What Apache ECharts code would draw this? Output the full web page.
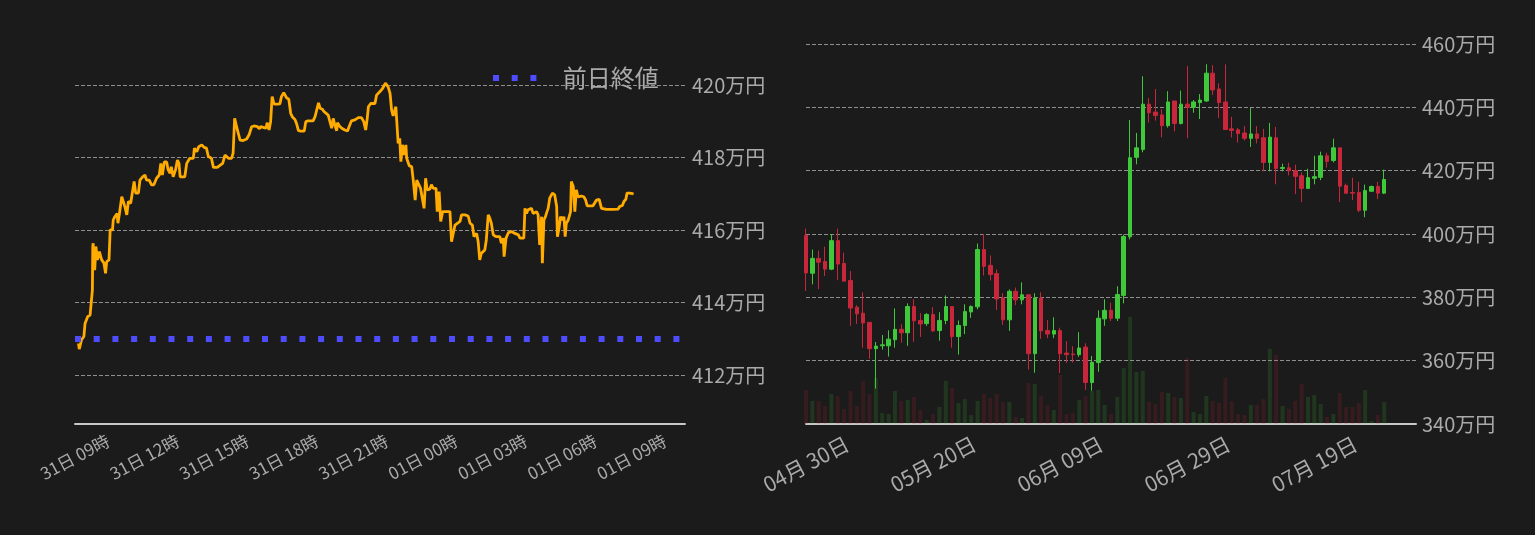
<!DOCTYPE html>
<html>
<head>
    <meta charset="UTF-8">
    <title>価格チャート</title>
    <style type="text/css">
        html, body { margin:0; padding:0; background:#1b1b1b; }
        #main { width:1535px; height:535px; }
    </style>
    <script type="text/javascript" src="https://cdn.jsdelivr.net/npm/echarts@6.0.0/dist/echarts.min.js"></script>
</head>
<body>
<div id="main"></div>
<script type="text/javascript">
    // 当日（31日 09時から）の分単位オフセットと価格（万円）
    var intradayMinutes = [9, 11, 17, 23, 26, 30, 33, 39, 43, 45, 46, 47, 51, 54, 58, 63, 69, 75, 79, 82,
        88, 91, 97, 99, 103, 109, 111, 115, 121, 125, 129, 134, 138, 144, 149, 153, 157, 164, 168, 175,
        181, 185, 192, 198, 204, 211, 218, 222, 226, 231, 237, 241, 246, 249, 254, 260, 265, 269, 272, 284,
        289, 297, 306, 309, 315, 320, 328, 334, 340, 345, 353, 358, 368, 373, 382, 388, 392, 397, 405, 409,
        413, 418, 422, 427, 435, 444, 450, 457, 463, 472, 477, 480, 485, 494, 497, 502, 506, 510, 515, 522,
        530, 534, 540, 547, 553, 558, 563, 569, 573, 578, 584, 593, 597, 603, 616, 621, 626, 630, 634, 640,
        644, 649, 655, 659, 664, 668, 672, 677, 679, 684, 690, 698, 705, 709, 715, 724, 733, 741, 747, 752,
        756, 759, 765, 770, 776, 780, 789, 796, 803, 806, 810, 815, 819, 823, 827, 830, 834, 836, 840, 843,
        847, 852, 856, 858, 862, 865, 871, 875, 880, 884, 894, 899, 903, 907, 911, 918, 922, 927, 934, 937,
        942, 946, 951, 961, 970, 974, 978, 983, 987, 996, 1000, 1009, 1017, 1022, 1028, 1032, 1039, 1043, 1047, 1051,
        1060, 1064, 1069, 1073, 1077, 1082, 1089, 1099, 1103, 1108, 1110, 1115, 1121, 1129, 1138, 1147, 1151, 1161, 1164, 1168,
        1172, 1181, 1185, 1194, 1198, 1202, 1207, 1209, 1213, 1217, 1221, 1224, 1228, 1235, 1241, 1246, 1248, 1252, 1256, 1261,
        1265, 1268, 1271, 1276, 1282, 1284, 1289, 1293, 1297, 1301, 1310, 1316, 1321, 1325, 1332, 1340, 1349, 1356, 1359, 1362,
        1375, 1392, 1405, 1409, 1416, 1420, 1425, 1428, 1435, 1445];
    var intradayPrices = [412.88, 412.72, 412.98, 413.07, 413.43, 413.48, 413.62, 413.66, 413.66, 414.35, 415.55, 415.64, 414.90, 415.55, 415.18, 415.41, 415.18, 415.09, 414.81, 415.13,
        415.18, 416.01, 416.01, 416.28, 416.37, 416.46, 416.19, 416.46, 416.92, 416.94, 416.65, 416.42, 416.79, 416.74, 416.79, 417.34, 417.02, 417.02, 417.38, 417.47,
        417.52, 417.38, 417.38, 417.25, 417.25, 417.43, 417.52, 417.84, 417.52, 417.88, 417.88, 417.66, 417.57, 417.75, 417.47, 417.66, 417.93, 417.84, 417.47, 417.47,
        417.84, 417.98, 417.98, 418.26, 418.16, 418.30, 418.35, 418.28, 418.26, 418.03, 417.98, 417.73, 417.73, 417.77, 417.84, 418.07, 418.12, 417.98, 417.98, 418.12,
        419.08, 418.85, 418.85, 418.48, 418.47, 418.51, 418.62, 418.85, 418.87, 418.85, 418.79, 418.85, 418.81, 418.81, 418.96, 418.76, 418.99, 419.68, 419.47, 419.47,
        419.48, 419.68, 419.79, 419.65, 419.61, 419.22, 419.11, 419.05, 418.94, 418.74, 418.73, 418.73, 418.99, 419.01, 419.01, 419.13, 419.13, 419.51, 419.36, 419.33,
        419.27, 419.25, 419.17, 419.13, 418.81, 419.08, 418.90, 418.74, 418.96, 418.87, 418.81, 418.76, 418.73, 418.85, 419.01, 419.04, 419.10, 419.10, 418.99, 418.76,
        419.08, 419.40, 419.49, 419.45, 419.49, 419.72, 419.82, 419.91, 420.05, 420.09, 419.95, 419.77, 419.31, 419.15, 419.17, 419.40, 419.36, 418.39, 418.53, 417.89,
        418.35, 418.07, 418.35, 417.98, 418.03, 417.77, 417.75, 417.38, 416.83, 417.38, 417.15, 417.15, 416.60, 417.43, 417.11, 417.13, 417.25, 417.15, 417.15, 416.51,
        417.06, 416.24, 416.51, 416.51, 416.51, 415.68, 415.64, 416.14, 416.19, 416.24, 416.42, 416.42, 416.39, 416.19, 416.14, 415.82, 415.91, 415.68, 415.18, 415.36,
        415.45, 415.73, 416.42, 416.33, 416.19, 415.87, 415.82, 415.82, 415.64, 415.78, 415.27, 415.78, 415.93, 415.96, 415.91, 415.87, 415.78, 415.78, 416.60, 416.46,
        416.56, 416.60, 416.46, 416.51, 416.42, 415.59, 416.37, 415.09, 416.28, 416.37, 416.51, 416.60, 416.88, 417.02, 416.97, 416.65, 415.82, 416.05, 416.37, 416.28,
        416.37, 415.82, 416.19, 416.28, 416.51, 417.34, 417.20, 416.51, 417.11, 416.92, 416.94, 416.92, 416.83, 416.67, 416.67, 416.67, 416.83, 416.85, 416.85, 416.60,
        416.57, 416.57, 416.58, 416.65, 416.68, 416.79, 416.85, 417.02, 417.02, 417.00];
    var prevClose = 413.0;
    var intradayAxisMax = 1578;

    // 日足（04月30日から）
    var startDay = Date.UTC(2021, 3, 30);
    var dayCount = 97;
    var openVals = [399.6, 387.6, 392.3, 391.3, 388.9, 397.9, 390.7, 385.3, 376.9, 375.0, 372.1, 363.8, 364.7, 364.7, 366.6, 369.9, 368.8, 377.1, 372.7, 371.7,
        374.6, 369.5, 372.7, 377.1, 367.6, 371.1, 375.4, 377.0, 395.1, 390.1, 387.5, 379.8, 372.9, 381.9, 379.2, 380.8, 362.2, 379.8, 369.5, 368.4,
        369.5, 362.4, 362.1, 361.9, 364.3, 353.1, 359.4, 373.2, 375.9, 373.4, 380.6, 399.1, 424.2, 426.7, 441.0, 438.5, 437.6, 434.2, 442.0, 434.9,
        441.0, 440.0, 441.5, 442.0, 450.8, 445.8, 441.7, 433.2, 432.9, 431.9, 430.2, 431.6, 430.4, 422.6, 430.4, 420.7, 420.9, 420.0, 418.4, 414.4,
        417.6, 417.9, 424.7, 423.2, 427.2, 415.3, 413.1, 413.1, 407.5, 413.5, 415.0, 412.9];
    var closeVals = [387.7, 392.3, 391.1, 388.9, 397.9, 390.5, 385.1, 376.6, 374.8, 371.9, 363.8, 364.6, 365.0, 366.8, 369.9, 368.8, 377.1, 372.6, 371.6, 374.6,
        369.4, 372.7, 377.1, 367.6, 371.1, 375.5, 377.1, 395.1, 389.8, 387.2, 379.5, 372.9, 381.9, 379.2, 380.8, 362.2, 379.8, 369.4, 368.4, 369.5,
        362.2, 361.9, 361.9, 364.0, 353.1, 359.5, 373.4, 375.9, 373.4, 380.9, 399.2, 424.1, 427.2, 441.0, 438.3, 437.4, 434.2, 441.7, 434.9, 441.0,
        440.0, 441.7, 442.3, 450.8, 445.5, 441.5, 433.0, 432.7, 431.7, 430.2, 431.6, 430.2, 422.6, 430.6, 420.7, 421.0, 420.0, 418.2, 414.4, 417.8,
        418.1, 424.7, 422.9, 427.2, 415.1, 412.9, 412.9, 407.5, 413.7, 415.0, 412.9, 417.2];
    var lowVals = [382.0, 384.1, 382.6, 386.7, 388.6, 385.4, 385.1, 371.0, 371.6, 364.1, 360.6, 351.2, 363.5, 361.3, 364.1, 365.7, 364.7, 366.0, 367.5, 371.0,
        369.1, 366.3, 371.5, 364.1, 361.9, 368.4, 373.5, 376.2, 386.9, 385.3, 376.0, 371.3, 369.4, 377.5, 377.8, 357.2, 356.2, 366.9, 367.1, 367.1,
        356.1, 359.3, 359.4, 361.2, 350.8, 350.5, 356.5, 371.0, 372.5, 372.5, 378.1, 398.3, 422.0, 425.8, 435.2, 435.8, 430.5, 433.6, 432.4, 434.6,
        430.2, 438.3, 436.3, 441.7, 443.9, 436.6, 433.0, 430.5, 428.9, 429.5, 427.5, 428.6, 419.8, 419.8, 415.7, 419.8, 418.5, 412.6, 410.1, 414.4,
        415.7, 417.0, 421.0, 422.6, 410.1, 412.6, 410.7, 406.9, 405.3, 413.5, 411.0, 412.6];
    var highVals = [401.7, 395.1, 394.8, 396.0, 400.0, 401.7, 394.1, 388.3, 377.5, 381.6, 372.1, 365.9, 368.1, 369.6, 376.5, 371.5, 378.1, 379.4, 375.0, 375.0,
        376.9, 375.3, 380.6, 377.1, 372.7, 377.8, 377.5, 397.0, 400.0, 393.2, 388.8, 381.3, 382.5, 383.1, 384.7, 380.8, 381.3, 381.6, 372.8, 373.7,
        370.4, 366.2, 364.6, 369.0, 365.5, 361.5, 375.9, 379.4, 378.3, 383.5, 399.8, 436.0, 431.9, 449.8, 442.9, 445.8, 439.4, 445.1, 442.0, 445.3,
        453.0, 442.3, 444.2, 453.6, 453.3, 447.6, 453.6, 437.0, 433.5, 434.1, 439.8, 434.1, 433.2, 435.1, 433.8, 422.2, 422.5, 421.9, 419.4, 420.6,
        424.7, 426.0, 425.7, 430.1, 427.2, 415.9, 417.8, 416.5, 415.6, 415.3, 416.5, 420.3];
    var volumeVals = [34, 23, 23, 18, 30, 28, 15, 33, 18, 43, 30, 46, 11, 10, 33, 23, 24, 27, 14, 4,
        10, 17, 43, 36, 21, 25, 9, 23, 30, 26, 30, 22, 22, 7, 6, 41, 40, 28, 19, 14,
        49, 10, 11, 24, 28, 33, 34, 19, 10, 27, 56, 107, 52, 53, 22, 20, 32, 31, 27, 26,
        66, 12, 10, 28, 23, 21, 46, 23, 10, 9, 19, 19, 25, 75, 69, 18, 15, 23, 40, 27,
        29, 20, 7, 10, 31, 17, 17, 21, 34, 3, 9, 22];

    var upColor = '#3ec83a';
    var downColor = '#c8263a';
    var labelColor = '#aaaaaa';
    var fontFamily = "'Noto Sans CJK JP', sans-serif";

    function pad2(n) { return (n < 10 ? '0' : '') + n; }

    var dayLabels = [];
    for (var i = 0; i < dayCount; i++) {
        var d = new Date(startDay + i * 86400000);
        dayLabels.push(pad2(d.getUTCMonth() + 1) + '月 ' + pad2(d.getUTCDate()) + '日');
    }

    var lineData = [];
    for (var i = 0; i < intradayMinutes.length; i++) {
        lineData.push([intradayMinutes[i], intradayPrices[i]]);
    }
    var candleData = [];
    var volumeData = [];
    for (var i = 0; i < openVals.length; i++) {
        candleData.push([openVals[i], closeVals[i], lowVals[i], highVals[i]]);
        volumeData.push({
            value: volumeVals[i],
            itemStyle: { color: closeVals[i] >= openVals[i] ? 'rgba(62,200,58,0.16)' : 'rgba(200,38,58,0.16)' }
        });
    }

    var axisLineStyle = { show: true, onZero: false, lineStyle: { color: '#c8c8c8', width: 2 } };
    var gridLineStyle = { color: '#8e8e8e', width: 1, type: 'dashed' };

    var myChart = echarts.init(document.getElementById('main'));
    var option = {
        backgroundColor: '#1b1b1b',
        animation: false,
        textStyle: { fontFamily: fontFamily },
        legend: {
            data: ['前日終値'],
            left: 488,
            top: 61,
            itemWidth: 44,
            itemHeight: 6,
            icon: 'path://M0,0h6v6h-6z M18.7,0h6v6h-6z M37.4,0h6v6h-6z',
            textStyle: { color: labelColor, fontSize: 24, fontFamily: fontFamily, padding: [0, 0, 0, 21] }
        },
        grid: [
            { left: 75, right: 850, top: 70, bottom: 111 },
            { left: 806, right: 119, top: 44, bottom: 111 }
        ],
        xAxis: [
            {
                type: 'value', gridIndex: 0, min: 0, max: intradayAxisMax, interval: 180,
                axisLine: axisLineStyle, axisTick: { show: false }, splitLine: { show: false },
                axisLabel: {
                    rotate: 28, align: 'center', verticalAlign: 'middle', margin: 33,
                    fontSize: 17, color: labelColor, showMaxLabel: false,
                    formatter: function (v) {
                        var t = 9 * 60 + v;
                        var day = t >= 1440 ? '01' : '31';
                        return day + '日 ' + pad2(Math.floor(t / 60) % 24) + '時';
                    }
                }
            },
            {
                type: 'category', gridIndex: 1, data: dayLabels, boundaryGap: false,
                axisLine: axisLineStyle, axisTick: { show: false }, splitLine: { show: false },
                axisLabel: {
                    interval: 19, rotate: 28, align: 'center', verticalAlign: 'middle', margin: 40,
                    fontSize: 21, color: labelColor
                }
            }
        ],
        yAxis: [
            {
                type: 'value', gridIndex: 0, position: 'right', min: 410.658, max: 420.413, scale: true,
                axisLine: { show: false }, axisTick: { show: false },
                splitLine: { lineStyle: gridLineStyle, showMinLine: false, showMaxLine: false },
                axisLabel: {
                    margin: 7, fontSize: 20, color: labelColor, showMinLabel: false, showMaxLabel: false,
                    formatter: function (v) { return v + '万円'; }
                }
            },
            {
                type: 'value', gridIndex: 1, position: 'right', min: 340, max: 460, interval: 20,
                axisLine: { show: false }, axisTick: { show: false },
                splitLine: { lineStyle: gridLineStyle, showMinLine: false },
                axisLabel: {
                    margin: 6, fontSize: 20, color: labelColor,
                    formatter: function (v) { return v + '万円'; }
                }
            },
            { type: 'value', gridIndex: 1, min: 0, max: 380, show: false }
        ],
        series: [
            {
                name: '価格', type: 'line', xAxisIndex: 0, yAxisIndex: 0,
                data: lineData, symbol: 'none',
                lineStyle: { color: '#ffab00', width: 2.8 }, itemStyle: { color: '#ffab00' }
            },
            {
                name: '前日終値', type: 'line', xAxisIndex: 0, yAxisIndex: 0,
                data: [[0, prevClose], [intradayAxisMax, prevClose]], symbol: 'none',
                itemStyle: { color: '#4d4dff' },
                lineStyle: { color: '#4d4dff', width: 6, type: [6, 12.7], cap: 'butt' }
            },
            {
                name: '出来高', type: 'bar', xAxisIndex: 1, yAxisIndex: 2,
                data: volumeData, barWidth: 4
            },
            {
                name: '日足', type: 'candlestick', xAxisIndex: 1, yAxisIndex: 1,
                data: candleData, barWidth: 4,
                itemStyle: {
                    color: upColor, color0: downColor,
                    borderColor: upColor, borderColor0: downColor, borderWidth: 1
                }
            }
        ]
    };
    myChart.setOption(option);
</script>
</body>
</html>
